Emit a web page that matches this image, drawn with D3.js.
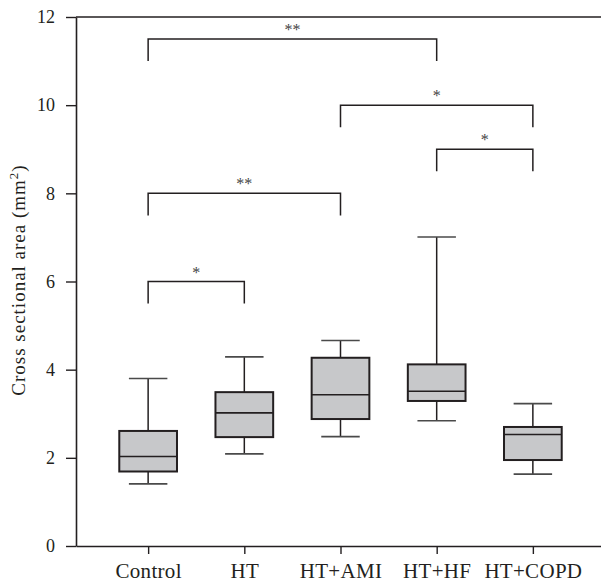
<!DOCTYPE html>
<html>
<head>
<meta charset="utf-8">
<script src="https://cdn.jsdelivr.net/npm/d3@7"></script>
<style>
  body { margin: 0; background: #fff; }
  svg text { font-family: "Liberation Serif", "Times New Roman", serif; fill: #231f20; }
</style>
</head>
<body>
<div id="chart"></div>
<script>
// values
let categories = ['Control', 'HT', 'HT+AMI', 'HT+HF', 'HT+COPD'];
let whiskerLow = [1.41, 2.09, 2.48, 2.84, 1.63];
let q1 = [1.69, 2.47, 2.88, 3.29, 1.95];
let median = [2.03, 3.02, 3.43, 3.51, 2.53];
let q3 = [2.61, 3.49, 4.27, 4.12, 2.70];
let whiskerHigh = [3.80, 4.29, 4.66, 7.01, 3.23];
let yTicks = [0, 2, 4, 6, 8, 10, 12];

// significance brackets
let bracketFrom = ['Control', 'HT+AMI', 'HT+HF', 'Control', 'Control'];
let bracketTo = ['HT+HF', 'HT+COPD', 'HT+COPD', 'HT+AMI', 'HT'];
let bracketLevel = [11.5, 10, 9, 8, 6];
let bracketLabel = ['**', '*', '*', '**', '*'];
let legDrop = 0.5;

let config = {
  'svg': {},
  'margin': {},
  'plot': {}
};
config.svg.width = 601;
config.svg.height = 586;
config.margin.top = 17;
config.margin.left = 76;
config.margin.bottom = 40;
config.plot.width = 529;
config.plot.height = config.svg.height - config.margin.top - config.margin.bottom;

function translate(x, y) {
  return 'translate(' + x + ',' + y + ')';
}

let svg = d3.select('#chart').append('svg')
  .attr('width', config.svg.width)
  .attr('height', config.svg.height);

let plot = svg.append('g')
  .attr('transform', translate(config.margin.left, config.margin.top));

let x = d3.scalePoint()
  .domain(categories)
  .range([0, config.plot.width])
  .padding(0.75);

let y = d3.scaleLinear()
  .domain([0, 12])
  .range([config.plot.height, 0]);

let step = x.step();
let boxW = step * 0.6;
let capW = step * 0.4;

let data = categories.map((c, i) => ({
  name: c, lo: whiskerLow[i], q1: q1[i], med: median[i], q3: q3[i], hi: whiskerHigh[i]
}));

// top frame line
plot.append('line')
  .attr('x1', 0).attr('x2', config.plot.width)
  .attr('y1', y(12)).attr('y2', y(12))
  .attr('stroke', '#231f20').attr('stroke-width', 1.6);

// axes
let yAxis = plot.append('g')
  .call(d3.axisLeft(y).tickValues(yTicks).tickSize(10).tickPadding(11).tickSizeOuter(0));
yAxis.selectAll('text').style('font-size', '18px');

let xAxis = plot.append('g')
  .attr('transform', translate(0, config.plot.height))
  .call(d3.axisBottom(x).tickSize(8).tickPadding(6).tickSizeOuter(0));
xAxis.selectAll('text')
  .style('font-size', '21px')
  .style('letter-spacing', '0.3px')
  .attr('dy', '0.85em');

[yAxis, xAxis].forEach(function(ax) {
  ax.select('.domain').attr('stroke', '#231f20').attr('stroke-width', 1.6);
  ax.selectAll('.tick line').attr('stroke', '#231f20').attr('stroke-width', 1.4);
});

// y axis title
let title = svg.append('text')
  .attr('transform', translate(25, 280) + ' rotate(-90)')
  .attr('text-anchor', 'middle')
  .style('font-size', '19px')
  .style('letter-spacing', '1px');
title.append('tspan').text('Cross sectional area (mm');
title.append('tspan').attr('dy', -7).style('font-size', '13px').text('2');
title.append('tspan').attr('dy', 7).text(')');

// whiskers
let boxes = plot.selectAll('.box')
  .data(data)
  .enter().append('g')
  .attr('class', 'box')
  .attr('transform', d => translate(x(d.name), 0));

boxes.append('line')
  .attr('x1', 0).attr('x2', 0)
  .attr('y1', d => y(d.hi)).attr('y2', d => y(d.lo))
  .attr('stroke', '#231f20').attr('stroke-width', 1.5);

boxes.append('line')
  .attr('x1', -capW / 2).attr('x2', capW / 2)
  .attr('y1', d => y(d.hi)).attr('y2', d => y(d.hi))
  .attr('stroke', '#4a4a4a').attr('stroke-width', 1.6);

boxes.append('line')
  .attr('x1', -capW / 2).attr('x2', capW / 2)
  .attr('y1', d => y(d.lo)).attr('y2', d => y(d.lo))
  .attr('stroke', '#4a4a4a').attr('stroke-width', 1.6);

boxes.append('rect')
  .attr('x', -boxW / 2)
  .attr('width', boxW)
  .attr('y', d => y(d.q3))
  .attr('height', d => y(d.q1) - y(d.q3))
  .attr('fill', '#c7c8ca')
  .attr('stroke', '#231f20')
  .attr('stroke-width', 2);

boxes.append('line')
  .attr('x1', -boxW / 2).attr('x2', boxW / 2)
  .attr('y1', d => y(d.med)).attr('y2', d => y(d.med))
  .attr('stroke', '#231f20').attr('stroke-width', 1.6);

// brackets
let brackets = bracketFrom.map((f, i) => ({
  from: f, to: bracketTo[i], level: bracketLevel[i], label: bracketLabel[i]
}));

plot.selectAll('.bracket')
  .data(brackets)
  .enter().append('path')
  .attr('class', 'bracket')
  .attr('fill', 'none')
  .attr('stroke', '#231f20')
  .attr('stroke-width', 1.5)
  .attr('d', d => 'M' + x(d.from) + ',' + y(d.level - legDrop) +
    'V' + y(d.level) + 'H' + x(d.to) + 'V' + y(d.level - legDrop));

plot.selectAll('.star')
  .data(brackets)
  .enter().append('text')
  .attr('class', 'star')
  .attr('x', d => (x(d.from) + x(d.to)) / 2)
  .attr('y', d => y(d.level) - 4)
  .attr('text-anchor', 'middle')
  .style('font-size', '16px')
  .style('fill', '#444')
  .text(d => d.label);
</script>
</body>
</html>
